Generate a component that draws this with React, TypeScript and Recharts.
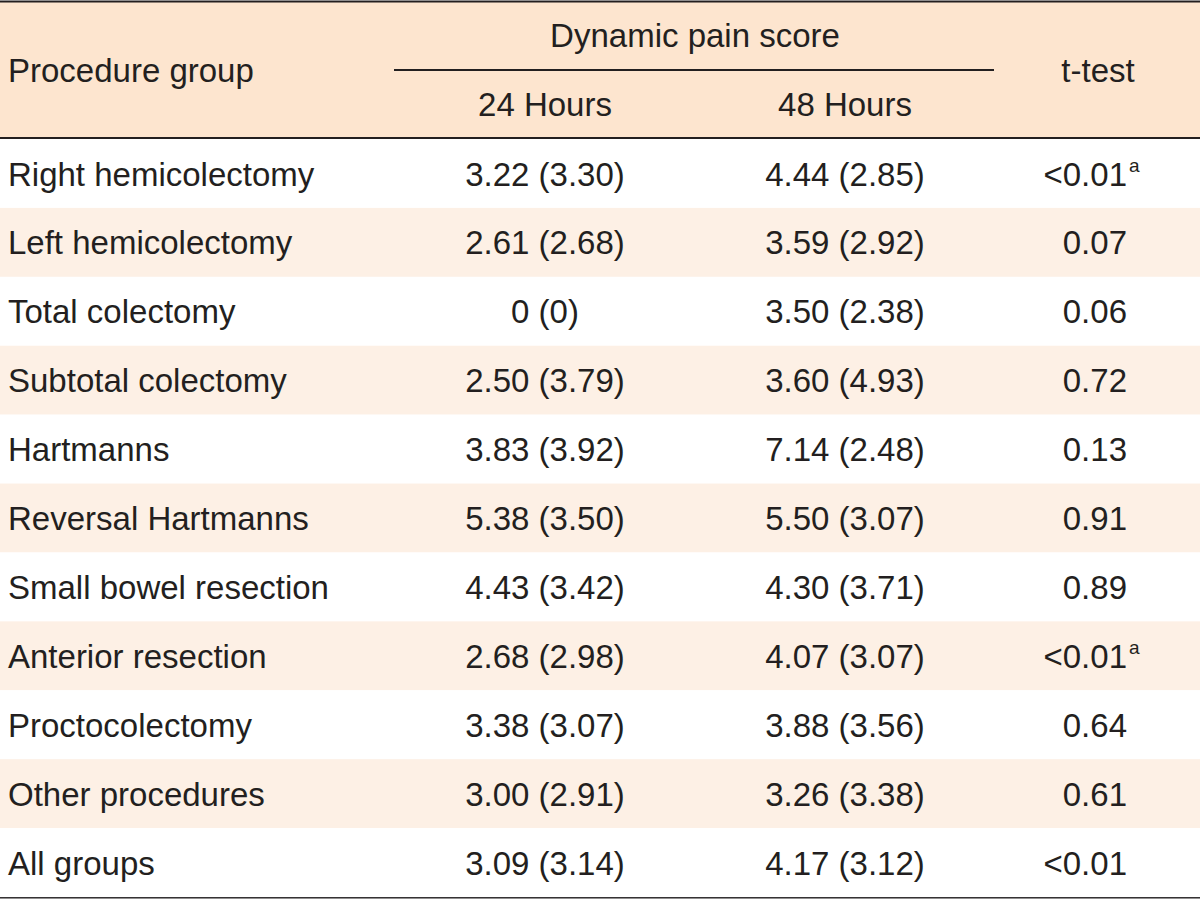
import { BarChart, Bar, XAxis, YAxis } from 'recharts'

const groups = [
  'Right hemicolectomy',
  'Left hemicolectomy',
  'Total colectomy',
  'Subtotal colectomy',
  'Hartmanns',
  'Reversal Hartmanns',
  'Small bowel resection',
  'Anterior resection',
  'Proctocolectomy',
  'Other procedures',
  'All groups',
]
const mean24 = [3.22, 2.61, 0, 2.5, 3.83, 5.38, 4.43, 2.68, 3.38, 3.0, 3.09]
const sd24 = [3.3, 2.68, 0, 3.79, 3.92, 3.5, 3.42, 2.98, 3.07, 2.91, 3.14]
const mean48 = [4.44, 3.59, 3.5, 3.6, 7.14, 5.5, 4.3, 4.07, 3.88, 3.26, 4.17]
const sd48 = [2.85, 2.92, 2.38, 4.93, 2.48, 3.07, 3.71, 3.07, 3.56, 3.38, 3.12]
const pValues = ['<0.01', '0.07', '0.06', '0.72', '0.13', '0.91', '0.89', '<0.01', '0.64', '0.61', '<0.01']
const marks = ['a', '', '', '', '', '', '', 'a', '', '', '']

const INK = '#231f20'
const HEAD_BG = '#fde5cf'
const STRIPE = '#fdf0e5'
const FONT = '"Liberation Sans", Arial, sans-serif'
const FS = 33

const fmt = (m: number, s: number) =>
  m === 0 && s === 0 ? '0 (0)' : `${m.toFixed(2)} (${s.toFixed(2)})`

const rows = groups.map((g, i) => ({
  group: g,
  h24: fmt(mean24[i], sd24[i]),
  h48: fmt(mean48[i], sd48[i]),
  p: pValues[i],
  mark: marks[i],
  band: 1,
}))

function RowCell(props: any) {
  const { x, y, width, height, payload, index } = props
  const cy = y + height / 2 + 12
  return (
    <g>
      <rect x={x} y={y} width={width} height={height} fill={index % 2 === 1 ? STRIPE : '#ffffff'} />
      <text x={x + 8} y={cy} fill={INK} fontSize={FS} fontFamily={FONT}>{payload.group}</text>
      <text x={545} y={cy} fill={INK} fontSize={FS} fontFamily={FONT} textAnchor="middle">{payload.h24}</text>
      <text x={845} y={cy} fill={INK} fontSize={FS} fontFamily={FONT} textAnchor="middle">{payload.h48}</text>
      <text x={1127} y={cy} fill={INK} fontSize={FS} fontFamily={FONT} textAnchor="end">{payload.p}</text>
      {payload.mark && (
        <text x={1129} y={cy - 14} fill={INK} fontSize={19} fontFamily={FONT}>{payload.mark}</text>
      )}
    </g>
  )
}

export default function App() {
  return (
    <div style={{ position: 'absolute', left: 0, top: 0, width: 1200, height: 900, background: '#fff' }}>
      <BarChart
        width={1200}
        height={900}
        data={rows}
        layout="vertical"
        margin={{ top: 139, right: 0, bottom: 3, left: 0 }}
        barCategoryGap={0}
      >
        <XAxis type="number" domain={[0, 1]} hide />
        <YAxis type="category" dataKey="group" hide width={0} />
        <Bar dataKey="band" shape={RowCell} isAnimationActive={false} />
        <rect x={0} y={2} width={1200} height={136} fill={HEAD_BG} />
        <line x1={0} x2={1200} y1={1.5} y2={1.5} stroke={INK} strokeWidth={2} />
        <line x1={0} x2={1200} y1={138} y2={138} stroke={INK} strokeWidth={2} />
        <line x1={0} x2={1200} y1={897.5} y2={897.5} stroke={INK} strokeWidth={2} />
        <line x1={394} x2={994} y1={70} y2={70} stroke={INK} strokeWidth={2} />
        <text x={8} y={82} fill={INK} fontSize={FS} fontFamily={FONT}>Procedure group</text>
        <text x={695} y={47} fill={INK} fontSize={FS} fontFamily={FONT} textAnchor="middle">Dynamic pain score</text>
        <text x={545} y={116} fill={INK} fontSize={FS} fontFamily={FONT} textAnchor="middle">24 Hours</text>
        <text x={845} y={116} fill={INK} fontSize={FS} fontFamily={FONT} textAnchor="middle">48 Hours</text>
        <text x={1098} y={82} fill={INK} fontSize={FS} fontFamily={FONT} textAnchor="middle">t-test</text>
      </BarChart>
    </div>
  )
}
